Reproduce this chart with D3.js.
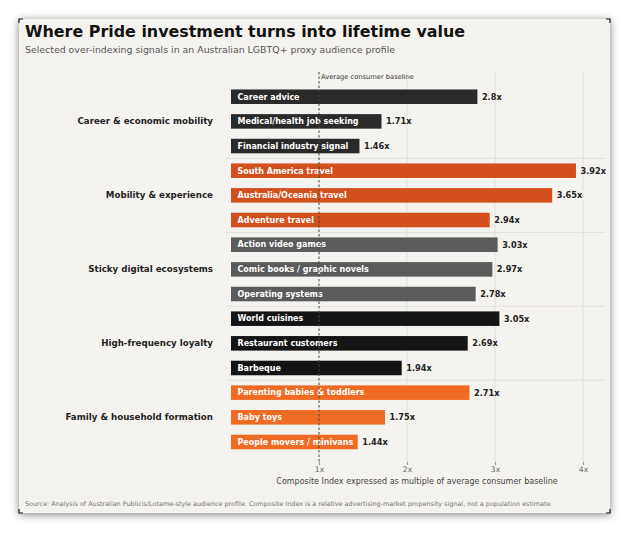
<!DOCTYPE html>
<html>
<head>
<meta charset="utf-8">
<script src="https://cdn.jsdelivr.net/npm/d3@7"></script>
<style>
    html, body { margin: 0; padding: 0; background: #ffffff; }
    svg { display: block; font-family: 'DejaVu Sans', sans-serif; }
</style>
</head>
<body>
<div id="chart"></div>
<script>
// Group names, in display order
const groups = [
    "Career & economic mobility",
    "Mobility & experience",
    "Sticky digital ecosystems",
    "High-frequency loyalty",
    "Family & household formation"
];
const groupColors = ["#2a2a2a", "#d34f1d", "#5b5b5b", "#141414", "#ef6b24"];

// Signals (bars), their group index and composite index value
const signals = [
    "Career advice", "Medical/health job seeking", "Financial industry signal",
    "South America travel", "Australia/Oceania travel", "Adventure travel",
    "Action video games", "Comic books / graphic novels", "Operating systems",
    "World cuisines", "Restaurant customers", "Barbeque",
    "Parenting babies & toddlers", "Baby toys", "People movers / minivans"
];
const signalGroup = [0, 0, 0, 1, 1, 1, 2, 2, 2, 3, 3, 3, 4, 4, 4];
const signalValues = [2.8, 1.71, 1.46, 3.92, 3.65, 2.94, 3.03, 2.97, 2.78, 3.05, 2.69, 1.94, 2.71, 1.75, 1.44];
const valueLabels = ["2.8x", "1.71x", "1.46x", "3.92x", "3.65x", "2.94x", "3.03x", "2.97x", "2.78x", "3.05x", "2.69x", "1.94x", "2.71x", "1.75x", "1.44x"];

// Axis ticks
const tickValues = [1, 2, 3, 4];
const tickLabels = ["1x", "2x", "3x", "4x"];

function createChart() {
    const width = 630;
    const height = 533;

    const svg = d3.select("#chart")
        .append("svg")
        .attr("width", width)
        .attr("height", height);

    // card shadow
    const defs = svg.append("defs");
    const shadow = defs.append("filter")
        .attr("id", "shadow")
        .attr("x", "-10%").attr("y", "-10%")
        .attr("width", "120%").attr("height", "120%");
    shadow.append("feDropShadow")
        .attr("dx", 0).attr("dy", 1.5)
        .attr("stdDeviation", 4.5)
        .attr("flood-color", "#000")
        .attr("flood-opacity", 0.5);

    const card = { x: 19, y: 19, w: 591, h: 494 };
    svg.append("rect")
        .attr("x", card.x).attr("y", card.y)
        .attr("width", card.w).attr("height", card.h)
        .attr("fill", "#f5f3ef")
        .attr("filter", "url(#shadow)");

    // little corner marks
    const c = 4;
    const corners = [
        [card.x, card.y, 1, 1], [card.x + card.w, card.y, -1, 1],
        [card.x, card.y + card.h, 1, -1], [card.x + card.w, card.y + card.h, -1, -1]
    ];
    corners.forEach(([x, y, sx, sy]) => {
        svg.append("path")
            .attr("d", `M${x},${y + sy * c}L${x},${y}L${x + sx * c},${y}`)
            .attr("fill", "none")
            .attr("stroke", "#111")
            .attr("stroke-width", 1.2);
    });

    // titles
    svg.append("text")
        .attr("x", 25).attr("y", 37)
        .attr("font-size", 15.9)
        .attr("font-weight", "bold")
        .attr("fill", "#111")
        .text("Where Pride investment turns into lifetime value");

    svg.append("text")
        .attr("x", 25).attr("y", 53)
        .attr("font-size", 9.4)
        .attr("fill", "#555")
        .text("Selected over-indexing signals in an Australian LGBTQ+ proxy audience profile");

    // scales
    const x = d3.scaleLinear()
        .domain([0, 4])
        .range([231, 583]);

    const y = d3.scaleBand()
        .domain(signals)
        .range([84.4, 454.3])
        .paddingInner(0.41)
        .paddingOuter(0.205);

    const plotTop = 72;
    const plotBottom = 462;

    // gridlines
    svg.append("g")
        .selectAll("line")
        .data(tickValues.filter(d => d !== 1))
        .join("line")
        .attr("x1", d => x(d)).attr("x2", d => x(d))
        .attr("y1", plotTop).attr("y2", plotBottom)
        .attr("stroke", "#dcdad6")
        .attr("stroke-width", 0.8);

    // group separators
    const seps = d3.range(1, groups.length).map(g => signalGroup.indexOf(g));
    svg.append("g")
        .selectAll("line")
        .data(seps)
        .join("line")
        .attr("x1", 226).attr("x2", 605)
        .attr("y1", i => (y(signals[i - 1]) + y(signals[i]) + y.bandwidth()) / 2)
        .attr("y2", i => (y(signals[i - 1]) + y(signals[i]) + y.bandwidth()) / 2)
        .attr("stroke", "#dcdad6")
        .attr("stroke-width", 0.8);

    // bars
    svg.append("g")
        .selectAll("rect")
        .data(signals)
        .join("rect")
        .attr("x", x(0))
        .attr("y", d => y(d))
        .attr("width", (d, i) => x(signalValues[i]) - x(0))
        .attr("height", y.bandwidth())
        .attr("fill", (d, i) => groupColors[signalGroup[i]]);

    // labels inside bars
    svg.append("g")
        .selectAll("text")
        .data(signals)
        .join("text")
        .attr("x", x(0) + 6.5)
        .attr("y", d => y(d) + y.bandwidth() / 2)
        .attr("dy", "0.35em")
        .attr("font-size", 8)
        .attr("font-weight", "bold")
        .attr("fill", "#fff")
        .text(d => d);

    // value labels
    svg.append("g")
        .selectAll("text")
        .data(signals)
        .join("text")
        .attr("x", (d, i) => x(signalValues[i]) + 4.5)
        .attr("y", d => y(d) + y.bandwidth() / 2)
        .attr("dy", "0.35em")
        .attr("font-size", 8.2)
        .attr("font-weight", "bold")
        .attr("fill", "#222")
        .text((d, i) => valueLabels[i]);

    // baseline at 1x
    svg.append("line")
        .attr("x1", x(1)).attr("x2", x(1))
        .attr("y1", plotTop).attr("y2", plotBottom)
        .attr("stroke", "#444")
        .attr("stroke-width", 1)
        .attr("stroke-dasharray", "2.5,2");

    svg.append("text")
        .attr("x", x(1) + 2).attr("y", 79)
        .attr("font-size", 6.7)
        .attr("fill", "#333")
        .text("Average consumer baseline");

    // group labels, centred on middle bar of each group
    svg.append("g")
        .selectAll("text")
        .data(groups)
        .join("text")
        .attr("x", 213)
        .attr("y", (d, g) => {
            const idx = signalGroup.map((v, i) => v === g ? i : -1).filter(i => i >= 0);
            return d3.mean(idx, i => y(signals[i]) + y.bandwidth() / 2);
        })
        .attr("dy", "0.35em")
        .attr("text-anchor", "end")
        .attr("font-size", 8.7)
        .attr("font-weight", "bold")
        .attr("fill", "#222")
        .text(d => d);

    // x axis
    const axis = svg.append("g")
        .attr("transform", `translate(0,${plotBottom})`)
        .call(d3.axisBottom(x)
            .tickValues(tickValues)
            .tickFormat((d, i) => tickLabels[i])
            .tickSize(3)
            .tickPadding(2));
    axis.select(".domain").remove();
    axis.selectAll(".tick line").attr("stroke", "#999");
    axis.selectAll(".tick text")
        .attr("font-family", "'DejaVu Sans', sans-serif")
        .attr("font-size", 7.6)
        .attr("fill", "#666");

    svg.append("text")
        .attr("x", 417).attr("y", 484)
        .attr("text-anchor", "middle")
        .attr("font-size", 8)
        .attr("fill", "#444")
        .text("Composite Index expressed as multiple of average consumer baseline");

    svg.append("text")
        .attr("x", 25).attr("y", 506)
        .attr("font-size", 6.45)
        .attr("fill", "#777")
        .text("Source: Analysis of Australian Publicis/Lotame-style audience profile. Composite Index is a relative advertising-market propensity signal, not a population estimate.");
}

document.addEventListener('DOMContentLoaded', createChart);
</script>
</body>
</html>
